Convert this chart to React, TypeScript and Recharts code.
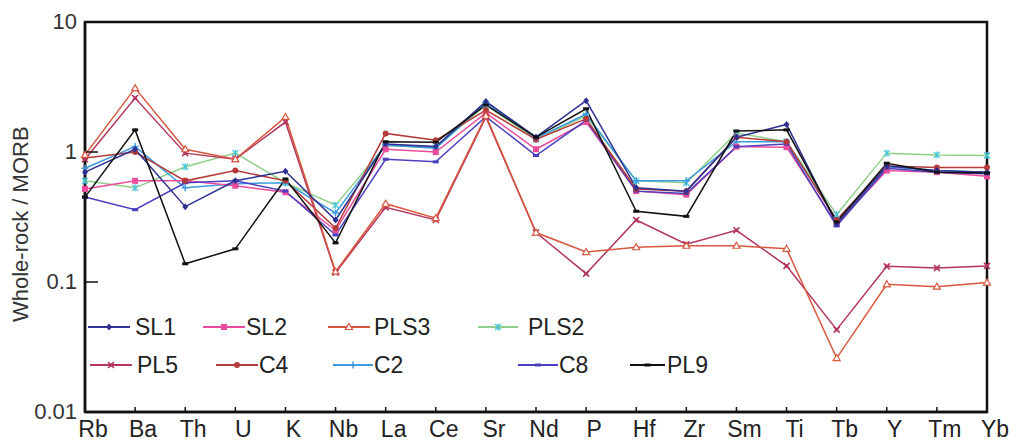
import { LineChart, Line, XAxis, YAxis, ReferenceArea } from "recharts";

const ELEMENTS = ["Rb", "Ba", "Th", "U", "K", "Nb", "La", "Ce", "Sr", "Nd", "P", "Hf", "Zr", "Sm", "Ti", "Tb", "Y", "Tm", "Yb"];
const Y_TICKS = [0.01, 0.1, 1, 10];

// whole-rock / MORB
const SL1 = [0.7, 1.05, 0.38, 0.6, 0.71, 0.3, 1.15, 1.1, 2.45, 1.3, 2.48, 0.53, 0.5, 1.3, 1.63, 0.28, 0.78, 0.72, 0.7];
const SL2 = [0.52, 0.6, 0.6, 0.55, 0.49, 0.25, 1.05, 1.0, 2.0, 1.05, 1.7, 0.5, 0.47, 1.1, 1.09, 0.28, 0.72, 0.7, 0.65];
const PLS3 = [0.95, 3.1, 1.05, 0.88, 1.86, 0.12, 0.4, 0.31, 1.9, 0.24, 0.17, 0.185, 0.19, 0.19, 0.18, 0.026, 0.096, 0.092, 0.099];
const PLS2 = [0.6, 0.53, 0.77, 0.98, 0.58, 0.39, 1.12, 1.08, 2.3, 1.25, 1.9, 0.6, 0.58, 1.4, 1.2, 0.33, 0.98, 0.95, 0.94];
const PL5 = [0.88, 2.6, 0.98, 0.88, 1.7, 0.118, 0.375, 0.3, 1.85, 0.24, 0.116, 0.3, 0.195, 0.25, 0.133, 0.043, 0.132, 0.128, 0.133];
const C4 = [0.9, 1.0, 0.6, 0.72, 0.6, 0.26, 1.39, 1.23, 2.1, 1.25, 1.8, 0.52, 0.5, 1.3, 1.2, 0.3, 0.78, 0.76, 0.76];
const C2 = [0.75, 1.1, 0.53, 0.57, 0.58, 0.34, 1.13, 1.07, 2.4, 1.28, 1.95, 0.6, 0.6, 1.2, 1.2, 0.3, 0.77, 0.72, 0.7];
const C8 = [0.45, 0.36, 0.58, 0.6, 0.5, 0.23, 0.88, 0.84, 1.87, 0.94, 1.75, 0.5, 0.48, 1.1, 1.15, 0.27, 0.75, 0.7, 0.68];
const PL9 = [0.45, 1.48, 0.138, 0.18, 0.62, 0.2, 1.2, 1.19, 2.3, 1.3, 2.15, 0.35, 0.32, 1.45, 1.48, 0.29, 0.82, 0.7, 0.69];

const FONT = '"Liberation Sans", Arial, sans-serif';

type Shape = "diamond" | "square" | "triangle" | "asterisk" | "star" | "circle" | "plus" | "dash";

const SERIES: { key: string; values: number[]; color: string; marker: string; shape: Shape }[] = [
  { key: "PLS2", values: PLS2, color: "#8fcf8a", marker: "#45c6d6", shape: "asterisk" },
  { key: "C2", values: C2, color: "#3d9be0", marker: "#3d9be0", shape: "plus" },
  { key: "SL2", values: SL2, color: "#ec4b9c", marker: "#ec4b9c", shape: "square" },
  { key: "C8", values: C8, color: "#4a3fbf", marker: "#4a3fbf", shape: "dash" },
  { key: "C4", values: C4, color: "#b53a3a", marker: "#b53a3a", shape: "circle" },
  { key: "PL5", values: PL5, color: "#b2365e", marker: "#b2365e", shape: "star" },
  { key: "PLS3", values: PLS3, color: "#d8573f", marker: "#d8573f", shape: "triangle" },
  { key: "SL1", values: SL1, color: "#2e3192", marker: "#2e3192", shape: "diamond" },
  { key: "PL9", values: PL9, color: "#111111", marker: "#111111", shape: "dash" },
];

const data = ELEMENTS.map((el, i) => {
  const row: Record<string, string | number> = { el };
  SERIES.forEach((s) => (row[s.key] = s.values[i]));
  return row;
});

function Marker({ cx, cy, shape, color }: { cx: number; cy: number; shape: Shape; color: string }) {
  if (cx == null || cy == null) return null;
  switch (shape) {
    case "diamond":
      return <path d={`M${cx},${cy - 3.5}L${cx + 3},${cy}L${cx},${cy + 3.5}L${cx - 3},${cy}Z`} fill={color} />;
    case "square":
      return <rect x={cx - 3} y={cy - 3} width={6} height={6} fill={color} />;
    case "triangle":
      return <path d={`M${cx},${cy - 3.5}L${cx + 3.5},${cy + 2.5}L${cx - 3.5},${cy + 2.5}Z`} fill="#fff" stroke={color} strokeWidth={1.2} />;
    case "circle":
      return <circle cx={cx} cy={cy} r={3} fill={color} />;
    case "plus":
      return <path d={`M${cx - 3.5},${cy}H${cx + 3.5}M${cx},${cy - 3.5}V${cy + 3.5}`} stroke={color} strokeWidth={1.5} />;
    case "dash":
      return <rect x={cx - 3} y={cy - 1.5} width={6} height={3} fill={color} />;
    case "asterisk":
      return (
        <path
          d={`M${cx - 3},${cy - 3}L${cx + 3},${cy + 3}M${cx - 3},${cy + 3}L${cx + 3},${cy - 3}M${cx},${cy - 3.5}V${cy + 3.5}`}
          stroke={color}
          strokeWidth={1.3}
        />
      );
    case "star":
      return (
        <g>
          <path d={`M${cx - 3},${cy - 3}L${cx + 3},${cy + 3}M${cx - 3},${cy + 3}L${cx + 3},${cy - 3}`} stroke={color} strokeWidth={1.6} />
          <circle cx={cx} cy={cy} r={1.8} fill={color} />
        </g>
      );
  }
  return null;
}

const LEGEND_POS: Record<string, { x1: number; x2: number; tx: number; y: number }> = {
  SL1: { x1: 88, x2: 130, tx: 135, y: 327 },
  SL2: { x1: 203, x2: 245, tx: 246, y: 327 },
  PLS3: { x1: 328, x2: 370, tx: 374, y: 327 },
  PLS2: { x1: 478, x2: 518, tx: 528, y: 327 },
  PL5: { x1: 90, x2: 132, tx: 137, y: 365 },
  C4: { x1: 216, x2: 258, tx: 259, y: 365 },
  C2: { x1: 333, x2: 373, tx: 374, y: 365 },
  C8: { x1: 518, x2: 558, tx: 559, y: 365 },
  PL9: { x1: 630, x2: 665, tx: 667, y: 365 },
};

function LegendOverlay() {
  return (
    <svg width={1016} height={448} style={{ position: "absolute", left: 0, top: 0, pointerEvents: "none" }}>
      {SERIES.map((s) => {
        const p = LEGEND_POS[s.key];
        return (
          <g key={s.key}>
            <line x1={p.x1} x2={p.x2} y1={p.y} y2={p.y} stroke={s.color} strokeWidth={2} />
            <Marker cx={(p.x1 + p.x2) / 2} cy={p.y} shape={s.shape} color={s.marker} />
            <text x={p.tx} y={p.y} dy="0.36em" fontSize={23} fontFamily={FONT} fill="#222">
              {s.key}
            </text>
          </g>
        );
      })}
    </svg>
  );
}

function XTick({ x, y, payload }: any) {
  return (
    <text x={x + 8} y={y} dy="0.75em" textAnchor="middle" fontSize={23} fontFamily={FONT} fill="#222">
      {payload.value}
    </text>
  );
}

function YTick({ x, y, payload }: any) {
  return (
    <text x={x} y={y} dy="0.3em" textAnchor="end" fontSize={22} fontFamily={FONT} fill="#333">
      {String(payload.value)}
    </text>
  );
}

export default function App() {
  return (
    <div style={{ position: "absolute", left: 0, top: 0, width: 1016, height: 448, background: "#fff" }}>
      <LineChart width={1016} height={448} data={data} margin={{ top: 22, right: 29, bottom: 0, left: 0 }}>
        <XAxis
          dataKey="el"
          height={36}
          interval={0}
          axisLine={{ stroke: "#111", strokeWidth: 2.5 }}
          tickLine={{ stroke: "#111", strokeWidth: 1.5 }}
          tickSize={-5}
          tickMargin={13}
          tick={<XTick />}
        />
        <YAxis
          scale="log"
          domain={[0.01, 10]}
          ticks={Y_TICKS}
          allowDataOverflow
          width={85}
          axisLine={{ stroke: "#111", strokeWidth: 2.5 }}
          tickLine={{ stroke: "#111", strokeWidth: 1.5 }}
          tickSize={-13}
          tickMargin={21}
          tick={<YTick />}
          label={{
            value: "Whole-rock / MORB",
            angle: -90,
            position: "insideLeft",
            dx: 15,
            dy: 105,
            style: { fontSize: 22, fontFamily: FONT, fill: "#333" },
          }}
        />
        <ReferenceArea x1="Rb" x2="Yb" y1={0.01} y2={10} fill="none" stroke="#111" strokeWidth={2.5} ifOverflow="visible" />
        {SERIES.map((s) => (
          <Line
            key={s.key}
            dataKey={s.key}
            stroke={s.color}
            strokeWidth={1.5}
            isAnimationActive={false}
            dot={(props: any) => <Marker key={`${s.key}-${props.index}`} cx={props.cx} cy={props.cy} shape={s.shape} color={s.marker} />}
            activeDot={false}
          />
        ))}
      </LineChart>
      <LegendOverlay />
    </div>
  );
}
